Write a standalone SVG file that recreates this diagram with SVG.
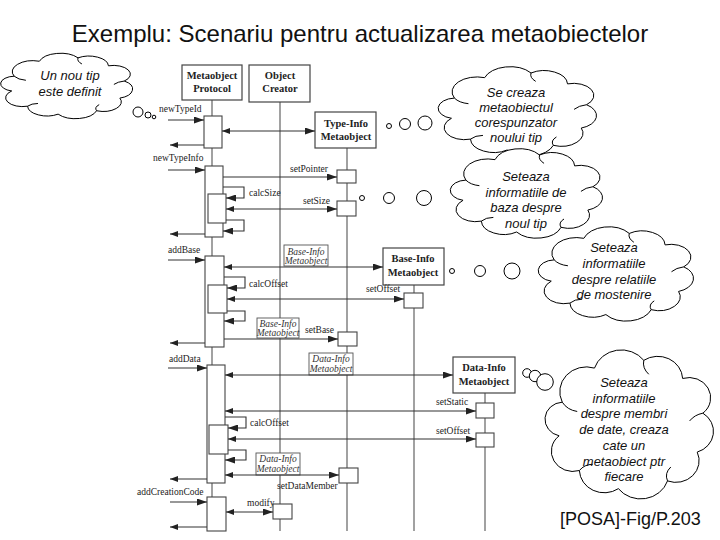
<svg xmlns="http://www.w3.org/2000/svg" xmlns:xlink="http://www.w3.org/1999/xlink" width="720" height="540" viewBox="0 0 720 540">
<style>
.title{font-family:"Liberation Sans",Arial,sans-serif;font-size:24px;fill:#111}
.ct{font-family:"Liberation Sans",Arial,sans-serif;font-size:13px;font-style:italic;fill:#111;text-anchor:middle}
.ref{font-family:"Liberation Sans",Arial,sans-serif;font-size:18px;fill:#111}
.hd{font-family:"Liberation Serif","Times New Roman",serif;font-size:10.5px;font-weight:bold;fill:#222;text-anchor:middle}
.it{font-family:"Liberation Serif","Times New Roman",serif;font-size:9.5px;font-style:italic;fill:#333;text-anchor:middle}
.lbl{font-family:"Liberation Serif","Times New Roman",serif;font-size:9.5px;fill:#222}
.box{fill:#fff;stroke:#444;stroke-width:1.2}
.act{fill:#fff;stroke:#444;stroke-width:1.1}
.ibox{fill:#fff;stroke:#555;stroke-width:0.9}
.life{fill:none;stroke:#555;stroke-width:1.1}
.msg{fill:none;stroke:#333;stroke-width:1.1}
.call{marker-end:url(#ah)}
.ret{marker-end:url(#ahs)}
.dbl{marker-start:url(#ahs);marker-end:url(#ah)}
.cloud{fill:#fff;stroke:#000;stroke-width:1;vector-effect:non-scaling-stroke}
.curl{fill:none;stroke:#000;stroke-width:1;vector-effect:non-scaling-stroke}
.bub{fill:#fff;stroke:#000;stroke-width:1}
</style>
<defs>
<marker id="ah" viewBox="0 0 10 7" refX="10" refY="3.5" markerWidth="10" markerHeight="7" markerUnits="userSpaceOnUse" orient="auto"><path d="M0,0 L10,3.5 L0,7 z" fill="#222"/></marker>
<marker id="ahs" viewBox="0 0 8 6" refX="8" refY="3" markerWidth="8" markerHeight="6" markerUnits="userSpaceOnUse" orient="auto-start-reverse"><path d="M0,0 L8,3 L0,6 z" fill="#222"/></marker>
<g id="cloudshape">
<path class="cloud" d="M6.7,57.3 A11,11 0 0 1 8.6,35.6 A16,16 0 0 1 28,13.6 A17,17 0 0 1 57.7,8.6 A15,15 0 0 1 81.1,20.3 A13,13 0 0 1 93.3,42.7 A14,14 0 0 1 89.9,67.8 A14,14 0 0 1 72,86.4 A17,17 0 0 1 42.4,91.4 A15,15 0 0 1 18.9,79.7 A13,13 0 0 1 6.7,57.3 Z"/>
<path class="curl" d="M8.6,35.6 q3,5 9,6 M57.7,8.6 q-1,5 3,9 M93.3,42.7 q-5,1 -8,5 M72,86.4 q-2,-5 2,-9 M18.9,79.7 q3,-4 8,-4"/>
</g>
</defs>
<rect width="720" height="540" fill="#fff"/>
<text class="title" x="360" y="42" text-anchor="middle">Exemplu: Scenariu pentru actualizarea metaobiectelor</text>

<g id="lifelines">
<path class="life" d="M212,100 V531 M280,102 V531 M347,148 V531 M414,285 V531 M485,393 V531"/>
</g>

<g id="node-metaobject-protocol"><rect class="box" x="182" y="65" width="60" height="35"/><text class="hd" x="212" y="79">Metaobject</text><text class="hd" x="212" y="92">Protocol</text></g>
<g id="node-object-creator"><rect class="box" x="249" y="65" width="61" height="37"/><text class="hd" x="280" y="79">Object</text><text class="hd" x="280" y="92">Creator</text></g>
<g id="node-type-info"><rect class="box" x="315" y="112" width="61" height="36"/><text class="hd" x="346" y="127">Type-Info</text><text class="hd" x="346" y="140">Metaobject</text></g>
<g id="node-base-info"><rect class="box" x="383" y="248" width="61" height="37"/><text class="hd" x="413" y="262">Base-Info</text><text class="hd" x="413" y="276">Metaobject</text></g>
<g id="node-data-info"><rect class="box" x="453" y="357" width="62" height="36"/><text class="hd" x="484" y="371">Data-Info</text><text class="hd" x="484" y="385">Metaobject</text></g>

<g id="activations">
<rect class="act" x="204" y="116" width="18" height="32"/>
<rect class="act" x="205" y="166" width="18" height="71"/>
<rect class="act" x="208" y="194" width="18" height="29"/>
<rect class="act" x="205" y="256" width="19" height="91"/>
<rect class="act" x="208" y="285" width="19" height="28"/>
<rect class="act" x="207" y="365" width="18" height="118"/>
<rect class="act" x="209" y="425" width="19" height="29"/>
<rect class="act" x="207" y="497" width="19" height="34"/>
<rect class="act" x="337" y="170" width="19" height="13"/>
<rect class="act" x="337" y="201" width="19" height="15"/>
<rect class="act" x="404" y="293" width="19" height="15"/>
<rect class="act" x="338" y="332" width="19" height="14"/>
<rect class="act" x="476" y="403" width="18" height="15"/>
<rect class="act" x="476" y="433" width="18" height="14"/>
<rect class="act" x="339" y="468" width="19" height="15"/>
<rect class="act" x="273" y="504" width="19" height="15"/>
</g>

<g id="label-base-info-1"><rect class="ibox" x="284" y="245" width="44" height="21"/><text class="it" x="306" y="255">Base-Info</text><text class="it" x="306" y="264">Metaobject</text></g>
<g id="label-base-info-2"><rect class="ibox" x="257" y="318" width="42" height="20"/><text class="it" x="278" y="327">Base-Info</text><text class="it" x="278" y="336">Metaobject</text></g>
<g id="label-data-info-1"><rect class="ibox" x="309" y="353" width="44" height="22"/><text class="it" x="331" y="362">Data-Info</text><text class="it" x="331" y="372">Metaobject</text></g>
<g id="label-data-info-2"><rect class="ibox" x="256" y="453" width="44" height="22"/><text class="it" x="278" y="462">Data-Info</text><text class="it" x="278" y="472">Metaobject</text></g>

<g id="connectors">
<path class="msg call" d="M168,120 H204"/>
<path class="msg call" d="M168,170 H205"/>
<path class="msg call" d="M223,177 H337"/>
<path class="msg call" d="M168,260 H205"/>
<path class="msg call" d="M224,339 H338"/>
<path class="msg call" d="M168,368 H207"/>
<path class="msg call" d="M170,502 H207"/>
<path class="msg ret" d="M204,145 H170"/>
<path class="msg ret" d="M205,234 H170"/>
<path class="msg ret" d="M205,343 H170"/>
<path class="msg ret" d="M207,479 H170"/>
<path class="msg ret" d="M207,527 H170"/>
<path class="msg dbl" d="M222,131 H315"/>
<path class="msg dbl" d="M226,209 H337"/>
<path class="msg dbl" d="M224,267 H383"/>
<path class="msg dbl" d="M227,299 H404"/>
<path class="msg dbl" d="M225,375 H453"/>
<path class="msg dbl" d="M225,411 H476"/>
<path class="msg dbl" d="M228,439 H476"/>
<path class="msg dbl" d="M225,475 H339"/>
<path class="msg dbl" d="M226,512 H273"/>
<path class="msg call" d="M223,187 H244 V198 H226"/>
<path class="msg call" d="M226,220 H244 V231 H223"/>
<path class="msg call" d="M224,277 H245 V288 H227"/>
<path class="msg call" d="M227,311 H245 V321 H224"/>
<path class="msg call" d="M225,417 H246 V428 H228"/>
<path class="msg call" d="M228,450 H246 V460 H225"/>
</g>

<g id="message-labels">
<text class="lbl" x="159" y="112">newTypeId</text>
<text class="lbl" x="153" y="161">newTypeInfo</text>
<text class="lbl" x="290" y="172">setPointer</text>
<text class="lbl" x="249" y="196">calcSize</text>
<text class="lbl" x="303" y="204">setSize</text>
<text class="lbl" x="168" y="253">addBase</text>
<text class="lbl" x="249" y="287">calcOffset</text>
<text class="lbl" x="366" y="292">setOffset</text>
<text class="lbl" x="305" y="333">setBase</text>
<text class="lbl" x="169" y="362">addData</text>
<text class="lbl" x="436" y="405">setStatic</text>
<text class="lbl" x="250" y="426">calcOffset</text>
<text class="lbl" x="436" y="434">setOffset</text>
<text class="lbl" x="277" y="489">setDataMember</text>
<text class="lbl" x="137" y="495">addCreationCode</text>
<text class="lbl" x="247" y="506">modify</text>
</g>

<g id="cloud-1">
<use xlink:href="#cloudshape" transform="translate(3,52) scale(1.3,0.68)"/>
<circle class="bub" cx="138" cy="112" r="5"/><circle class="bub" cx="148" cy="115" r="3"/><circle class="bub" cx="154" cy="117" r="1.8"/>
<text class="ct" x="70" y="80">Un nou tip</text><text class="ct" x="70" y="96">este definit</text>
</g>
<g id="cloud-2">
<use xlink:href="#cloudshape" transform="translate(441,65) scale(1.56,0.93)"/>
<circle class="bub" cx="389" cy="126" r="2.5"/><circle class="bub" cx="405" cy="124" r="5.5"/><circle class="bub" cx="425" cy="123" r="7"/>
<text class="ct" x="516" y="97">Se creaza</text><text class="ct" x="516" y="112">metaobiectul</text><text class="ct" x="516" y="127">corespunzator</text><text class="ct" x="516" y="142">noului tip</text>
</g>
<g id="cloud-3">
<use xlink:href="#cloudshape" transform="translate(453,147) scale(1.5,0.93)"/>
<circle class="bub" cx="362" cy="198" r="2.5"/><circle class="bub" cx="389" cy="198" r="5.5"/><circle class="bub" cx="424" cy="198" r="7.5"/>
<text class="ct" x="526" y="181">Seteaza</text><text class="ct" x="526" y="196.5">informatiile de</text><text class="ct" x="526" y="212">baza despre</text><text class="ct" x="526" y="227.5">noul tip</text>
</g>
<g id="cloud-4">
<use xlink:href="#cloudshape" transform="translate(541,225) scale(1.53,0.98)"/>
<circle class="bub" cx="452" cy="271" r="2.5"/><circle class="bub" cx="480" cy="271" r="5.5"/><circle class="bub" cx="512" cy="271" r="8"/>
<text class="ct" x="614" y="252">Seteaza</text><text class="ct" x="614" y="267.5">informatiile</text><text class="ct" x="614" y="283.5">despre relatiile</text><text class="ct" x="614" y="299">de mostenire</text>
</g>
<g id="cloud-5">
<use xlink:href="#cloudshape" transform="translate(548,347) scale(1.66,1.55)"/>
<circle class="bub" cx="527" cy="373" r="4.3"/><circle class="bub" cx="535" cy="376" r="5.7"/><circle class="bub" cx="545" cy="382" r="8.3"/>
<text class="ct" x="624" y="387">Seteaza</text><text class="ct" x="624" y="402.7">informatiile</text><text class="ct" x="624" y="418.4">despre membri</text><text class="ct" x="624" y="434">de date, creaza</text><text class="ct" x="624" y="449.8">cate un</text><text class="ct" x="624" y="465.5">metaobiect ptr</text><text class="ct" x="624" y="481.2">fiecare</text>
</g>

<text class="ref" x="560" y="525">[POSA]-Fig/P.203</text>
</svg>
